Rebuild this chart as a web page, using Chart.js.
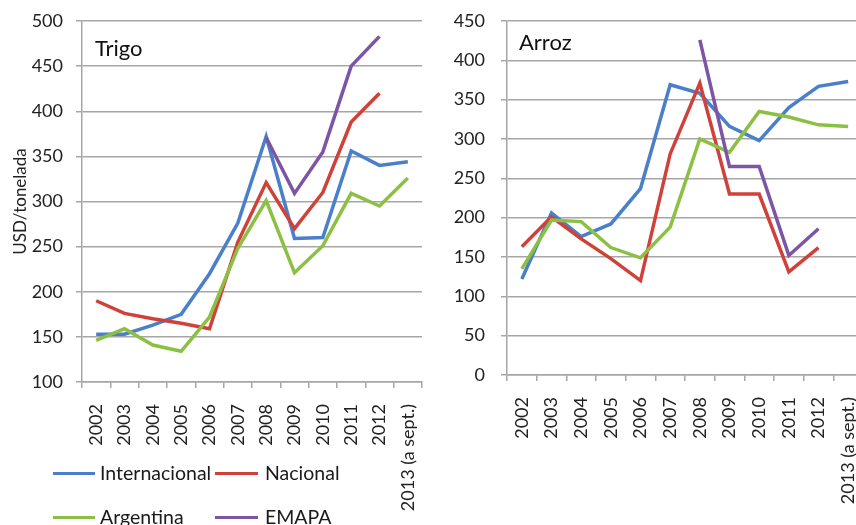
<!DOCTYPE html>
<html>
<head>
<meta charset="utf-8">
<script src="https://cdn.jsdelivr.net/npm/chart.js@4.4.1/dist/chart.umd.min.js"></script>
<style>
  html, body { margin: 0; padding: 0; background: #fff; overflow: hidden; width: 856px; height: 525px; }
  .box { position: absolute; top: 0; }
  canvas { display: block; }
  #leyenda { position: absolute; left: 53px; top: 461px; font-family: Lato, sans-serif; font-size: 19.5px; color: #1a1a1a; }
  .item { position: absolute; top: 0; height: 24px; line-height: 24px; white-space: nowrap; }
  .raya { position: absolute; top: 11px; height: 3px; }
</style>
</head>
<body>
<div class="box" style="left:0"><canvas id="trigo" width="430" height="525"></canvas></div>
<div class="box" style="left:430px"><canvas id="arroz" width="440" height="525"></canvas></div>
<div id="leyenda"></div>
<script>
const anios = ['2002','2003','2004','2005','2006','2007','2008','2009','2010','2011','2012','2013 (a sept.)'];
const series = ['Internacional','Nacional','Argentina','EMAPA'];
const colores = ['#4a7fc9','#d0413a','#8cc044','#7d55a5'];

// trigo, USD/tonelada
const trigoInternacional = [153,153,163,175,220,276,372,259,260,356,340,344];
const trigoNacional      = [190,176,170,165,159,255,321,270,310,388,420,null];
const trigoArgentina     = [146,159,141,134,172,248,301,221,251,309,295,326];
const trigoEmapa         = [null,null,null,null,null,null,371,309,355,450,483,null];

// arroz, USD/tonelada
const arrozInternacional = [122,206,176,192,237,369,358,316,298,340,367,373];
const arrozNacional      = [163,201,173,148,120,281,371,230,230,131,162,null];
const arrozArgentina     = [135,197,195,162,149,188,300,283,335,328,318,316];
const arrozEmapa         = [null,null,null,null,null,null,426,265,265,152,186,null];

const gris = '#a6a6a6';

function armarDatasets(valores) {
  return valores.map((v, i) => ({
    label: series[i],
    data: v,
    borderColor: colores[i],
    backgroundColor: colores[i],
    borderWidth: 3.5,
    pointRadius: 0,
    tension: 0,
    fill: false,
    order: 3 - i
  }));
}

// rotulo dentro del area del grafico (Trigo / Arroz)
const rotulo = {
  id: 'rotulo',
  afterDraw(chart, args, opts) {
    const ctx = chart.ctx;
    ctx.save();
    ctx.font = '22px Lato, sans-serif';
    ctx.fillStyle = '#111';
    ctx.textBaseline = 'alphabetic';
    ctx.fillText(opts.texto, chart.chartArea.left + opts.dx, chart.chartArea.top + opts.dy);
    ctx.restore();
  }
};

function opciones(cfg) {
  return {
    responsive: false,
    animation: false,
    layout: { padding: { top: cfg.arriba, right: cfg.derecha, left: 0, bottom: 0 } },
    plugins: {
      legend: { display: false },
      tooltip: { enabled: false },
      rotulo: { texto: cfg.texto, dx: cfg.dx, dy: cfg.dy }
    },
    scales: {
      x: {
        offset: true,
        grid: { offset: true, drawOnChartArea: false, drawTicks: true, tickLength: 6, color: gris, lineWidth: 1.5 },
        border: { color: gris, width: 1.5 },
        ticks: { autoSkip: false, minRotation: 90, maxRotation: 90, padding: 16, color: '#222', font: { family: 'Lato', size: 18 } },
        afterFit: s => { s.height = cfg.altoX; s.paddingLeft = 0; s.paddingRight = 0; }
      },
      y: {
        min: cfg.min, max: cfg.max,
        grid: { color: gris, lineWidth: 1.5, tickLength: 6 },
        border: { color: gris, width: 1.5 },
        ticks: { stepSize: 50, padding: cfg.padY, color: '#222', font: { family: 'Lato', size: 18 } },
        title: { display: !!cfg.tituloY, text: cfg.tituloY, color: '#222', font: { family: 'Lato', size: 17 }, padding: { top: 10, bottom: 0 } },
        afterFit: s => { s.width = cfg.anchoY; s.paddingTop = 0; s.paddingBottom = 0; }
      }
    }
  };
}

new Chart(document.getElementById('trigo'), {
  type: 'line',
  data: { labels: anios, datasets: armarDatasets([trigoInternacional, trigoNacional, trigoArgentina, trigoEmapa]) },
  options: opciones({ min: 100, max: 500, anchoY: 82, altoX: 143, arriba: 21, derecha: 8, padY: 13, tituloY: 'USD/tonelada', texto: 'Trigo', dx: 13, dy: 35 }),
  plugins: [rotulo]
});

new Chart(document.getElementById('arroz'), {
  type: 'line',
  data: { labels: anios, datasets: armarDatasets([arrozInternacional, arrozNacional, arrozArgentina, arrozEmapa]) },
  options: opciones({ min: 0, max: 450, anchoY: 77, altoX: 150, arriba: 21, derecha: 7, padY: 16, tituloY: '', texto: 'Arroz', dx: 12, dy: 29 }),
  plugins: [rotulo]
});

// leyenda 2 x 2 bajo el grafico de trigo
const ley = document.getElementById('leyenda');
const posiciones = [[0, 0], [1, 0], [0, 1], [1, 1]];
series.forEach((nombre, i) => {
  const [col, fila] = posiciones[i];
  const it = document.createElement('div');
  it.className = 'item';
  it.style.left = (col ? 162 : 0) + 'px';
  it.style.top = (fila * 44) + 'px';
  const raya = document.createElement('div');
  raya.className = 'raya';
  raya.style.background = colores[i];
  raya.style.left = '0px';
  raya.style.width = col ? '43px' : '42px';
  const txt = document.createElement('span');
  txt.textContent = nombre;
  txt.style.position = 'absolute';
  txt.style.left = (col ? 50 : 47) + 'px';
  it.appendChild(raya);
  it.appendChild(txt);
  ley.appendChild(it);
});
</script>
</body>
</html>
